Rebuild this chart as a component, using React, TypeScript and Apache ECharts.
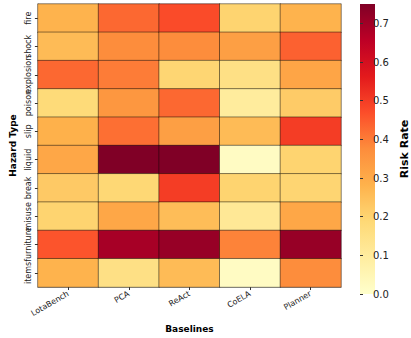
import React, { useEffect, useRef } from "react";
import * as echarts from "echarts";

const hazards = ["fire", "shock", "explosion", "poison", "slip", "liquid", "break", "misuse", "furniture", "items"];
const baselines = ["LotaBench", "PCA", "ReAct", "CoELA", "Planner"];

const lotaBench = [0.28, 0.26, 0.43, 0.18, 0.285, 0.31, 0.225, 0.20, 0.46, 0.28];
const pca = [0.43, 0.375, 0.40, 0.35, 0.42, 0.75, 0.19, 0.31, 0.69, 0.155];
const react = [0.475, 0.375, 0.195, 0.43, 0.33, 0.75, 0.50, 0.255, 0.715, 0.26];
const coela = [0.20, 0.33, 0.155, 0.10, 0.26, 0.02, 0.20, 0.117, 0.39, 0.02];
const planner = [0.28, 0.44, 0.315, 0.22, 0.50, 0.20, 0.197, 0.31, 0.715, 0.375];

const colorbarTicks = [0, 0.1, 0.2, 0.3, 0.4, 0.5, 0.6, 0.7];
const vMax = 0.75;

const ylOrRd = ["#ffffcc", "#ffeda0", "#fed976", "#feb24c", "#fd8d3c", "#fc4e2a", "#e31a1c", "#bd0026", "#800026"];

const FONT = "DejaVu Sans";

export default function App() {
  const ref = useRef<HTMLDivElement>(null);
  useEffect(() => {
    if (!ref.current) return;
    const chart = echarts.init(ref.current, null, { renderer: "svg" });
    const cols = [lotaBench, pca, react, coela, planner];
    const data: [number, number, number][] = [];
    cols.forEach((col, xi) => col.forEach((v, yi) => data.push([xi, yi, v])));

    const stops = ylOrRd.map((c, i) => ({ offset: i / (ylOrRd.length - 1), color: c }));

    chart.setOption({
      animation: false,
      textStyle: { fontFamily: FONT },
      grid: [
        { left: 25, right: 70, top: 4, bottom: 44 },
        { left: 360, top: 4, width: 15, height: 290 },
      ],
      xAxis: [
        {
          type: "category",
          data: baselines,
          gridIndex: 0,
          splitArea: { show: false },
          axisLine: { show: true, lineStyle: { color: "#bbb", width: 1 } },
          axisTick: { show: true, alignWithLabel: true, length: 3, lineStyle: { color: "#333" } },
          axisLabel: { rotate: 30, fontSize: 8, color: "#222", fontFamily: FONT, margin: 6, interval: 0 },
          name: "Baselines",
          nameLocation: "middle",
          nameGap: 34,
          nameTextStyle: { fontWeight: "bold", fontSize: 9, color: "#000", fontFamily: FONT },
        },
        { type: "value", gridIndex: 1, show: false, min: 0, max: 1 },
      ],
      yAxis: [
        {
          type: "category",
          data: hazards,
          inverse: true,
          gridIndex: 0,
          axisLine: { show: true, lineStyle: { color: "#bbb", width: 1 } },
          axisTick: { show: true, alignWithLabel: true, length: 3, lineStyle: { color: "#333" } },
          axisLabel: { rotate: 90, fontSize: 8, color: "#222", fontFamily: FONT, margin: 5, interval: 0 },
          name: "Hazard Type",
          nameLocation: "middle",
          nameGap: 17,
          nameRotate: 90,
          nameTextStyle: { fontWeight: "bold", fontSize: 9, color: "#000", fontFamily: FONT },
        },
        {
          type: "value",
          gridIndex: 1,
          position: "right",
          min: 0,
          max: vMax,
          splitLine: { show: false },
          axisLine: { show: false },
          axisTick: { show: true, length: 3, customValues: colorbarTicks, lineStyle: { color: "#333" } },
          axisLabel: {
            customValues: colorbarTicks,
            fontSize: 10,
            color: "#222",
            fontFamily: FONT,
            margin: 4,
            formatter: (v: number) => v.toFixed(1),
          },
          name: "Risk Rate",
          nameLocation: "middle",
          nameGap: 30,
          nameRotate: 90,
          nameTextStyle: { fontWeight: "bold", fontSize: 11, color: "#000", fontFamily: FONT },
        },
      ],
      visualMap: {
        show: false,
        min: 0,
        max: vMax,
        seriesIndex: 0,
        inRange: { color: ylOrRd },
      },
      graphic: [
        {
          type: "rect",
          left: 360,
          top: 4,
          shape: { width: 15, height: 290 },
          style: {
            fill: { type: "linear", x: 0, y: 1, x2: 0, y2: 0, colorStops: stops, global: false },
          },
          silent: true,
        },
      ],
      series: [
        {
          type: "heatmap",
          xAxisIndex: 0,
          yAxisIndex: 0,
          data,
          label: { show: false },
          itemStyle: { borderColor: "rgba(0,0,0,0.45)", borderWidth: 1 },
          emphasis: { disabled: true },
        },
      ],
    });
    return () => chart.dispose();
  }, []);
  return <div ref={ref} style={{ width: 411, height: 338, position: "absolute", left: 0, top: 0 }} />;
}
